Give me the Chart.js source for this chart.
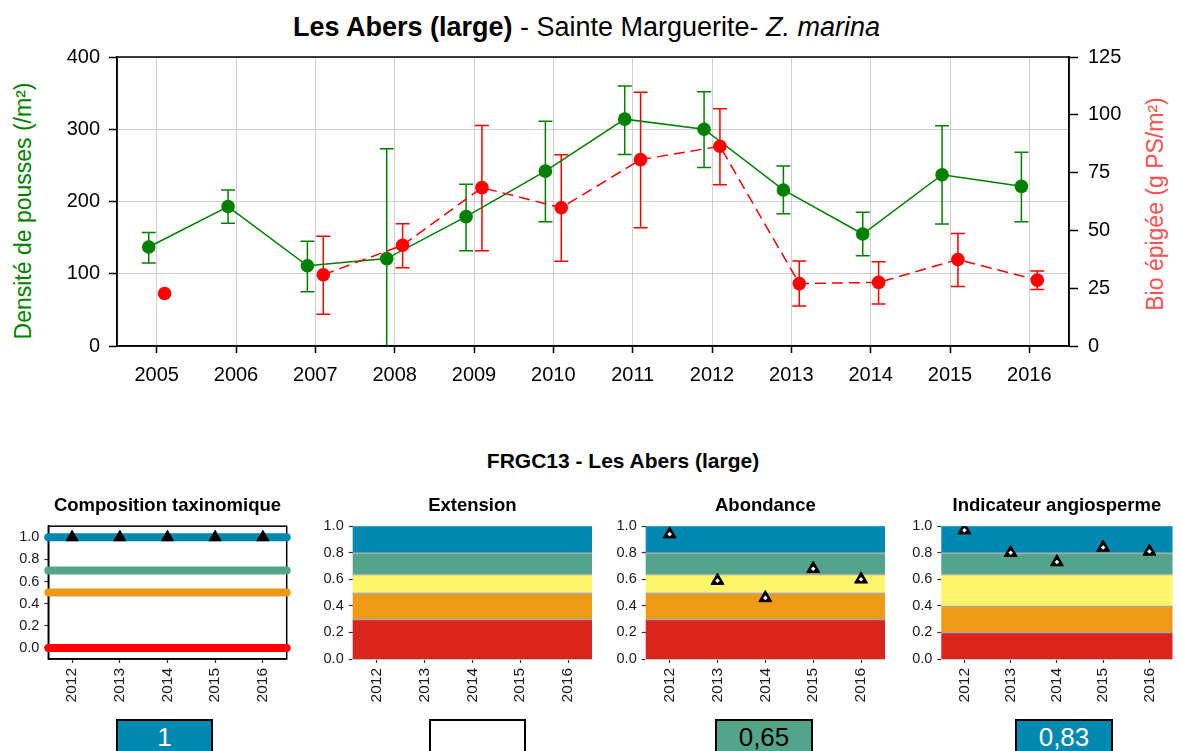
<!DOCTYPE html>
<html>
<head>
<meta charset="utf-8">
<script src="https://cdn.jsdelivr.net/npm/chart.js@4.4.1/dist/chart.umd.min.js"></script>
<style>
  html, body { margin:0; padding:0; background:#fff; }
  body { width:1181px; height:751px; overflow:hidden; position:relative; font-family:"Liberation Sans", Arial, sans-serif; }
  canvas { position:absolute; }
  .txt { position:absolute; white-space:nowrap; }
  #mainTitle { left:-4px; width:1181px; top:10px; text-align:center; font-size:27px; line-height:34px; color:#000; }
  #leftTitle { left:22.5px; top:211px; transform:translate(-50%,-50%) rotate(-90deg); font-size:23px; color:#008000; }
  #rightTitle { left:1155px; top:204px; transform:translate(-50%,-50%) rotate(-90deg); font-size:23px; color:#ff4f4f; }
  #subTitle { left:0; width:1246px; top:448px; text-align:center; font-size:21px; font-weight:bold; line-height:26px; color:#000; }
  .vbox { position:absolute; top:719px; height:45px; box-sizing:border-box; border:2px solid #000; text-align:center; font-size:26px; line-height:32px; }
</style>
</head>
<body>
<div id="mainTitle" class="txt"><b>Les Abers (large)</b> - Sainte Marguerite- <i>Z. marina</i></div>
<div id="leftTitle" class="txt">Densité de pousses (/m²)</div>
<div id="rightTitle" class="txt">Bio épigée (g PS/m²)</div>
<div id="subTitle" class="txt">FRGC13 - Les Abers (large)</div>

<canvas id="main" width="1181" height="400" style="left:0;top:0;width:1181px;height:400px"></canvas>
<canvas id="c1" width="300" height="230" style="left:0;top:480px;width:300px;height:230px"></canvas>
<canvas id="c2" width="300" height="230" style="left:300px;top:480px;width:300px;height:230px"></canvas>
<canvas id="c3" width="300" height="230" style="left:600px;top:480px;width:300px;height:230px"></canvas>
<canvas id="c4" width="281" height="230" style="left:900px;top:480px;width:281px;height:230px"></canvas>

<div id="v1" class="vbox" style="left:116px;width:97px;"></div>
<div id="v2" class="vbox" style="left:429px;width:97px;"></div>
<div id="v3" class="vbox" style="left:715px;width:98px;"></div>
<div id="v4" class="vbox" style="left:1015px;width:98px;"></div>

<script>
// ---------------- DATA ----------------
const years = [2005, 2006, 2007, 2008, 2009, 2010, 2011, 2012, 2013, 2014, 2015, 2016];
const densite     = [137, 193, 111, 121, 179, 242, 314, 300, 216, 155, 237, 221];
const densiteLow  = [115, 170, 75, -30, 132, 172, 265, 247, 183, 125, 169, 172];
const densiteHigh = [157, 216, 145, 273, 224, 311, 360, 352, 249, 185, 305, 268];
const bio     = [22.7, null, 30.8, 43.6, 68.5, 59.8, 80.6, 86.4, 27.0, 27.5, 37.4, 28.5];
const bioLow  = [null, null, 13.7, 33.8, 41.2, 36.7, 51.2, 69.7, 17.3, 18.2, 25.7, 24.4];
const bioHigh = [null, null, 47.5, 52.9, 95.4, 82.7, 109.7, 102.6, 36.8, 36.4, 48.7, 32.4];
const densiteTicks = [0, 100, 200, 300, 400];
const bioTicks = [0, 25, 50, 75, 100, 125];

const indYears = [2012, 2013, 2014, 2015, 2016];
const compLevels = [1.0, 0.7, 0.5, 0.0];
const compColors = ['#0089b0', '#52a58a', '#ee9a17', '#ff0000'];
const composition = [1, 1, 1, 1, 1];
const abondance = [0.94, 0.59, 0.46, 0.68, 0.60];
const angiosperme = [0.97, 0.80, 0.73, 0.84, 0.81];
const edgesStd = [0, 0.3, 0.5, 0.64, 0.8, 1.0];
const edgesAngio = [0, 0.2, 0.4, 0.64, 0.8, 1.0];
const bandColors = ['#da251d', '#ee9a17', '#fef56a', '#52a58a', '#0089b0'];
const smallTicks = [0, 0.2, 0.4, 0.6, 0.8, 1.0];
const panelTitles = ['Composition taxinomique', 'Extension', 'Abondance', 'Indicateur angiosperme'];
const panelValues = ['1', '', '0,65', '0,83'];
const panelFill = ['#0089b0', '#ffffff', '#52a58a', '#0089b0'];
const panelText = ['#ffffff', '#000000', '#000000', '#ffffff'];

// ---------------- SETUP ----------------
const FONT = "'Liberation Sans', Arial, sans-serif";
Chart.defaults.font.family = FONT;

const errorBars = {
  id: 'errorBars',
  beforeDatasetsDraw(chart) {
    const ctx = chart.ctx, xs = chart.scales.x, a = chart.chartArea;
    ctx.save();
    ctx.beginPath(); ctx.rect(a.left, a.top, a.width, a.height); ctx.clip();
    chart.data.datasets.forEach(ds => {
      if (!ds.errLow) return;
      const ys = chart.scales[ds.yAxisID];
      ctx.strokeStyle = ds.borderColor; ctx.lineWidth = 1.5; ctx.setLineDash([]);
      ds.data.forEach((p, i) => {
        const lo = ds.errLow[i], hi = ds.errHigh[i];
        if (lo == null || hi == null) return;
        const x = xs.getPixelForValue(p.x);
        const y0 = ys.getPixelForValue(lo), y1 = ys.getPixelForValue(hi);
        ctx.beginPath();
        ctx.moveTo(x, y0); ctx.lineTo(x, y1);
        ctx.moveTo(x - 7, y0); ctx.lineTo(x + 7, y0);
        ctx.moveTo(x - 7, y1); ctx.lineTo(x + 7, y1);
        ctx.stroke();
      });
    });
    ctx.restore();
  }
};

const frame = {
  id: 'frame',
  beforeDatasetsDraw(chart, args, opts) {
    if (!opts || !opts.color) return;
    const ctx = chart.ctx, a = chart.chartArea;
    ctx.save();
    ctx.strokeStyle = opts.color; ctx.lineWidth = opts.width || 1.5;
    ctx.strokeRect(a.left, a.top, a.width, a.height);
    ctx.restore();
  }
};

const bands = {
  id: 'bands',
  beforeDatasetsDraw(chart, args, opts) {
    if (!opts || !opts.edges) return;
    const ctx = chart.ctx, a = chart.chartArea, ys = chart.scales.y;
    ctx.save();
    for (let i = 0; i < opts.colors.length; i++) {
      const y0 = ys.getPixelForValue(opts.edges[i]);
      const y1 = ys.getPixelForValue(opts.edges[i + 1]);
      ctx.fillStyle = opts.colors[i];
      ctx.fillRect(a.left, y1, a.width, y0 - y1);
    }
    ctx.strokeStyle = '#a9a9a9'; ctx.lineWidth = 1.5;
    for (let i = 1; i < opts.edges.length - 1; i++) {
      const y = Math.round(ys.getPixelForValue(opts.edges[i])) + 0.5;
      ctx.beginPath(); ctx.moveTo(a.left, y); ctx.lineTo(a.right, y); ctx.stroke();
    }
    ctx.restore();
  }
};

// ---------------- MAIN CHART ----------------
new Chart(document.getElementById('main'), {
  type: 'line',
  data: {
    datasets: [
      {
        label: 'Bio épigée (g PS/m²)',
        data: years.map((y, i) => ({ x: y + 0.1, y: bio[i] })),
        errLow: bioLow, errHigh: bioHigh,
        yAxisID: 'y1',
        borderColor: '#ff0000', backgroundColor: '#ff0000',
        borderWidth: 1.5, borderDash: [11, 6],
        pointRadius: 6.8, pointHoverRadius: 6.8, pointBorderWidth: 0,
        spanGaps: false, tension: 0, order: 0
      },
      {
        label: 'Densité de pousses (/m²)',
        data: years.map((y, i) => ({ x: y - 0.1, y: densite[i] })),
        errLow: densiteLow, errHigh: densiteHigh,
        yAxisID: 'y',
        borderColor: '#008000', backgroundColor: '#008000',
        borderWidth: 1.5,
        pointRadius: 6.8, pointHoverRadius: 6.8, pointBorderWidth: 0,
        tension: 0, order: 1
      }
    ]
  },
  options: {
    responsive: false, animation: false,
    layout: { padding: { top: 57, left: 0, right: 0, bottom: 0 } },
    plugins: { legend: { display: false }, tooltip: { enabled: false }, frame: { color: '#000', width: 1.5 } },
    scales: {
      x: {
        type: 'linear', min: 2004.5, max: 2016.5,
        afterBuildTicks: s => { s.ticks = years.map(v => ({ value: v })); },
        afterFit: s => { s.height = 54; },
        ticks: { font: { size: 20 }, color: '#000', padding: 10, autoSkip: false, maxRotation: 0, callback: v => String(v) },
        grid: { color: '#cfcfcf', lineWidth: 1, tickColor: '#000', tickLength: 7, tickWidth: 1.5 },
        border: { color: '#000', width: 1.5 }
      },
      y: {
        position: 'left', min: 0, max: 400,
        afterBuildTicks: s => { s.ticks = densiteTicks.map(v => ({ value: v })); },
        afterFit: s => { s.width = 117; },
        ticks: { font: { size: 20 }, color: '#000', padding: 9 },
        grid: { color: '#cfcfcf', lineWidth: 1, tickColor: '#000', tickLength: 8, tickWidth: 1.5 },
        border: { color: '#000', width: 1.5 }
      },
      y1: {
        position: 'right', min: 0, max: 125,
        afterBuildTicks: s => { s.ticks = bioTicks.map(v => ({ value: v })); },
        afterFit: s => { s.width = 112; },
        ticks: { font: { size: 20 }, color: '#000', padding: 10 },
        grid: { drawOnChartArea: false, tickColor: '#000', tickLength: 9, tickWidth: 1.5 },
        border: { color: '#000', width: 1.5 }
      }
    }
  },
  plugins: [errorBars, frame]
});

// ---------------- SMALL CHARTS ----------------
function smallChart(id, cfg) {
  return new Chart(document.getElementById(id), {
    type: 'line',
    data: { datasets: cfg.datasets },
    options: {
      responsive: false, animation: false,
      layout: { padding: { left: 0, right: cfg.padRight, top: 0, bottom: 0 } },
      plugins: {
        legend: { display: false }, tooltip: { enabled: false },
        title: { display: true, text: cfg.title, fullSize: false, color: '#000',
                 font: { size: 18.5, weight: 'bold' }, padding: { top: 15, bottom: 9 } },
        bands: cfg.bands || {},
        frame: cfg.frame || {}
      },
      scales: {
        x: {
          type: 'linear', min: 2011.5, max: 2016.5,
          afterBuildTicks: s => { s.ticks = indYears.map(v => ({ value: v })); },
          afterFit: s => { s.height = 51; },
          ticks: { minRotation: 90, maxRotation: 90, autoSkip: false, font: { size: 15.5 }, color: '#1a1a1a', padding: 5, callback: v => String(v) },
          grid: { drawOnChartArea: false, tickLength: 4, tickColor: '#333', tickWidth: 1.2 },
          border: cfg.xBorder
        },
        y: {
          min: cfg.ymin, max: cfg.ymax,
          afterBuildTicks: s => { s.ticks = smallTicks.map(v => ({ value: v })); },
          afterFit: s => { s.width = cfg.yWidth; },
          ticks: { font: { size: 14.5 }, color: '#1a1a1a', padding: 5, callback: v => v.toFixed(1) },
          grid: { drawOnChartArea: false, tickLength: 4, tickColor: '#333', tickWidth: 1.2 },
          border: cfg.yBorder
        }
      }
    },
    plugins: [bands, frame]
  });
}

function markerSets(values) {
  const pts = indYears.map((x, i) => ({ x: x, y: values[i] }));
  return [
    { data: pts, showLine: false, pointStyle: 'rectRot', pointRadius: 2.3, pointHoverRadius: 2.3,
      backgroundColor: '#fff', borderColor: '#fff', pointBorderWidth: 0, order: 0 },
    { data: pts, showLine: false, pointStyle: 'triangle', pointRadius: 7.5, pointHoverRadius: 7.5,
      backgroundColor: '#000', borderColor: '#000', pointBorderWidth: 1, order: 1 }
  ];
}

// 1. Composition taxinomique
const compSets = [
  { data: indYears.map((x, i) => ({ x: x, y: composition[i] })), showLine: false, pointStyle: 'triangle',
    pointRadius: 7, pointHoverRadius: 7, backgroundColor: '#000', borderColor: '#000', pointBorderWidth: 1, order: 0, clip: false }
].concat(compLevels.map((v, i) => ({
  data: [{ x: 2011.5, y: v }, { x: 2016.5, y: v }],
  borderColor: compColors[i], borderWidth: 8, borderCapStyle: 'round',
  pointRadius: 0, pointHoverRadius: 0, clip: false, order: 1 + i
})));
smallChart('c1', {
  title: panelTitles[0], datasets: compSets, ymin: -0.1, ymax: 1.1, yWidth: 48.3, padRight: 13.3,
  frame: { color: '#000', width: 1.5 },
  xBorder: { color: '#000', width: 1.5 }, yBorder: { color: '#000', width: 1.5 }
});

// 2. Extension
smallChart('c2', {
  title: panelTitles[1], datasets: [], ymin: 0, ymax: 1, yWidth: 52.7, padRight: 8,
  bands: { edges: edgesStd, colors: bandColors },
  xBorder: { color: '#c8c8c8', width: 1, z: 1 }, yBorder: { display: false }
});

// 3. Abondance
smallChart('c3', {
  title: panelTitles[2], datasets: markerSets(abondance), ymin: 0, ymax: 1, yWidth: 45.7, padRight: 15,
  bands: { edges: edgesStd, colors: bandColors },
  xBorder: { color: '#c8c8c8', width: 1, z: 1 }, yBorder: { display: false }
});

// 4. Indicateur angiosperme
smallChart('c4', {
  title: panelTitles[3], datasets: markerSets(angiosperme), ymin: 0, ymax: 1, yWidth: 41.3, padRight: 0,
  bands: { edges: edgesAngio, colors: bandColors },
  xBorder: { color: '#c8c8c8', width: 1, z: 1 }, yBorder: { display: false }
});

// value boxes
panelValues.forEach((v, i) => {
  const el = document.getElementById('v' + (i + 1));
  el.textContent = v;
  el.style.background = panelFill[i];
  el.style.color = panelText[i];
});
</script>
</body>
</html>
